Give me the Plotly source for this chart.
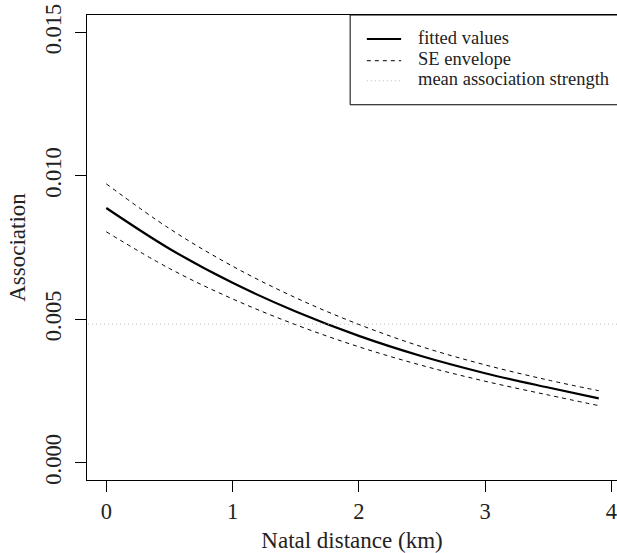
import plotly.graph_objects as go

# Data
distance_km = [0, 0.5, 1, 1.5, 2, 2.5, 3, 3.5, 3.9]
fitted_values = [0.00888, 0.00746, 0.00627, 0.00527, 0.00442, 0.00371, 0.00312, 0.00262, 0.00224]
se_upper = [0.00972, 0.00816, 0.00685, 0.00575, 0.00482, 0.00404, 0.00341, 0.00288, 0.00251]
se_lower = [0.00805, 0.00677, 0.00571, 0.00481, 0.00404, 0.00339, 0.00284, 0.00236, 0.00199]
mean_association = 0.00483
x_ticks = [0, 1, 2, 3, 4]
y_ticks = [0.0, 0.005, 0.010, 0.015]
y_tick_labels = ["0.000", "0.005", "0.010", "0.015"]
legend_labels = ["fitted values", "SE envelope", "mean association strength"]

FONT = "Liberation Serif"
MEAN_COLOR = "#bdbdbd"

fig = go.Figure()
fig.add_trace(go.Scatter(
    x=distance_km, y=fitted_values, mode="lines", name=legend_labels[0],
    line=dict(color="black", width=2.2, shape="spline"), showlegend=False,
))
fig.add_trace(go.Scatter(
    x=distance_km, y=se_upper, mode="lines", name=legend_labels[1],
    line=dict(color="black", width=1, dash="4px,4px", shape="spline"), showlegend=False,
))
fig.add_trace(go.Scatter(
    x=distance_km, y=se_lower, mode="lines", name=legend_labels[1],
    line=dict(color="black", width=1, dash="4px,4px", shape="spline"), showlegend=False,
))
fig.add_trace(go.Scatter(
    x=[-1, 5], y=[mean_association, mean_association], mode="lines",
    name=legend_labels[2],
    line=dict(color=MEAN_COLOR, width=1, dash="1px,3px"), showlegend=False,
))

L, T, B = 86.7, 15.3, 73
W, H = 617, 553
plot_w = W - L
plot_h = H - T - B


def px_x(px):
    return (px - L) / plot_w


def px_y(py):
    return (H - B - py) / plot_h


# Legend drawn as a box (extending past the right edge, like the reference)
shapes = [dict(type="rect", xref="paper", yref="paper",
               x0=px_x(350), x1=px_x(660), y0=px_y(105), y1=px_y(T),
               line=dict(color="black", width=1), fillcolor="white", layer="above")]
legend_rows = [39.3, 61, 81]
legend_styles = [dict(color="black", width=2.2),
                 dict(color="black", width=1, dash="4px,4px"),
                 dict(color=MEAN_COLOR, width=1, dash="1px,3px")]
annotations = []
for label, row, style in zip(legend_labels, legend_rows, legend_styles):
    shapes.append(dict(type="line", xref="paper", yref="paper",
                       x0=px_x(366.7), x1=px_x(401), y0=px_y(row), y1=px_y(row),
                       line=style, layer="above"))
    annotations.append(dict(xref="paper", yref="paper", x=px_x(416), y=px_y(row - 1.5),
                            xanchor="left", yanchor="middle", showarrow=False,
                            text=label, font=dict(family=FONT, size=18.5, color="#222")))

fig.update_layout(
    width=W, height=H,
    margin=dict(l=L, r=0, t=T, b=B),
    plot_bgcolor="white", paper_bgcolor="white",
    font=dict(family=FONT, color="#222", size=22.5),
    showlegend=False,
    shapes=shapes,
    annotations=annotations,
    xaxis=dict(
        range=[-0.1528, 4.0445], tickvals=x_ticks, ticktext=[str(v) for v in x_ticks],
        ticklabeloverflow="allow",
        ticks="outside", ticklen=11, tickcolor="black", tickwidth=1,
        showline=True, linecolor="black", linewidth=1, mirror=True,
        showgrid=False, zeroline=False,
        title=dict(text="Natal distance (km)", font=dict(size=23), standoff=8),
        automargin=False,
    ),
    yaxis=dict(
        range=[-0.000603, 0.015607], tickvals=y_ticks, ticktext=y_tick_labels,
        tickangle=-90, ticklabelstandoff=5, ticklabeloverflow="allow",
        ticks="outside", ticklen=11, tickcolor="black", tickwidth=1,
        showline=True, linecolor="black", linewidth=1, mirror=False,
        showgrid=False, zeroline=False,
        title=dict(text="Association", font=dict(size=23), standoff=8),
        automargin=False,
    ),
)

fig.write_html(
    "out.html",
    config={"displayModeBar": False},
    post_script="document.body.style.margin='0';document.body.style.overflow='hidden';",
)
